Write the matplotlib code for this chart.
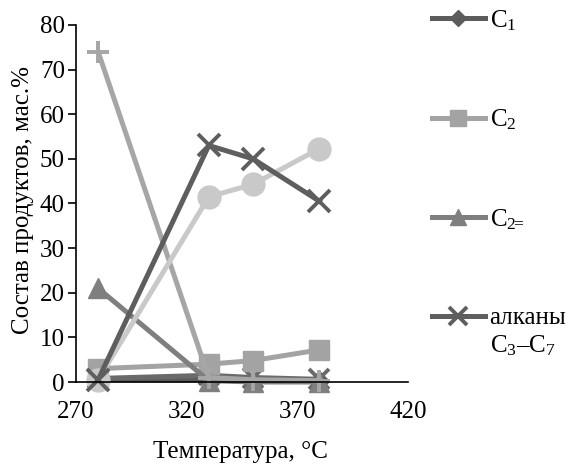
"""Состав продуктов в зависимости от температуры."""
import matplotlib
matplotlib.use("Agg")
import matplotlib.pyplot as plt
from matplotlib.ticker import FixedLocator

plt.rcParams["font.family"] = ["Liberation Serif", "DejaVu Serif"]
plt.rcParams["mathtext.fontset"] = "custom"
plt.rcParams["mathtext.rm"] = "Liberation Serif"
plt.rcParams["mathtext.it"] = "Liberation Serif:italic"

# Data
temperature = [280, 330, 350, 380]
c1 = [0.5, 0.5, 0.3, 0.2]
c2 = [3.0, 4.0, 4.8, 7.2]
c2_ene = [21.0, 0.3, 0.0, 0.0]
alkanes_c3_c7 = [0.5, 53.0, 50.0, 40.5]
plus_series = [74.0, 1.0, 0.5, 0.3]
x_series_low = [0.8, 1.5, 1.0, 0.6]
circle_series = [0.5, 41.5, 44.3, 52.3]

x_ticks = [270, 320, 370, 420]
y_ticks = [0, 10, 20, 30, 40, 50, 60, 70, 80]

FS = 18

fig = plt.figure(figsize=(5.74, 4.69), dpi=100)
ax = fig.add_axes([76 / 574, 1 - 382 / 469, 332 / 574, 357 / 469])

common = dict(lw=3.6, clip_on=False)
h_c1, = ax.plot(temperature, c1, marker="D", ms=10, color="#5c5c5c",
                label=r"C$_{1}$", **common)
ax.plot(temperature, x_series_low, marker="x", ms=14, mew=2.8, color="#6a6a6a", **common)
h_c2, = ax.plot(temperature, c2, marker="s", ms=14.5, color="#a3a3a3",
                label=r"C$_{2}$", **common)
h_c2e, = ax.plot(temperature, c2_ene, marker="^", ms=14, color="#7f7f7f",
                 label=r"C$_{2\!\!=}$", **common)
ax.plot(temperature, plus_series, marker="+", ms=16, mew=2.8, color="#a6a6a6", **common)
ax.plot(temperature, circle_series, marker="o", ms=16.5, color="#c9c9c9", **common)
h_alk, = ax.plot(temperature, alkanes_c3_c7, marker="x", ms=16, mew=2.8, color="#5e5e5e",
                 label="алканы", **common)

ax.set_xlim(270, 420)
ax.set_ylim(0, 80)
ax.set_xticks(x_ticks)
ax.set_yticks(y_ticks)
ax.xaxis.set_minor_locator(FixedLocator([420]))
ax.tick_params(axis="x", which="major", length=0, pad=14, labelsize=FS)
ax.tick_params(axis="x", which="minor", direction="in", length=7, width=1.2)
ax.tick_params(axis="y", direction="out", length=6, width=1.2, pad=2, labelsize=FS)
for side in ("top", "right"):
    ax.spines[side].set_visible(False)
for side in ("left", "bottom"):
    ax.spines[side].set_linewidth(1.2)

ax.set_xlabel("Температура, °C", fontsize=FS)
ax.xaxis.set_label_coords(0.494, -0.165)
ax.set_ylabel("Состав продуктов, мас.%", fontsize=FS)
ax.yaxis.set_label_coords(-0.125, 0.51)

leg = fig.legend(handles=[h_c1, h_c2, h_c2e, h_alk], loc="upper left",
                 bbox_to_anchor=(422 / 574, 1 + 2 / 469), frameon=False,
                 fontsize=FS, handlelength=2.1, handletextpad=0.2,
                 labelspacing=3.0, markerscale=0.8, borderaxespad=0)

# second line of the alkanes label, under its first line
fig.canvas.draw()
bb = leg.get_texts()[-1].get_window_extent()
fig.text(bb.x0 / 574, (bb.y0 - 4) / 469, r"C$_{3}$–C$_{7}$",
         fontsize=FS, ha="left", va="top")

fig.savefig("out.png", dpi=100)
